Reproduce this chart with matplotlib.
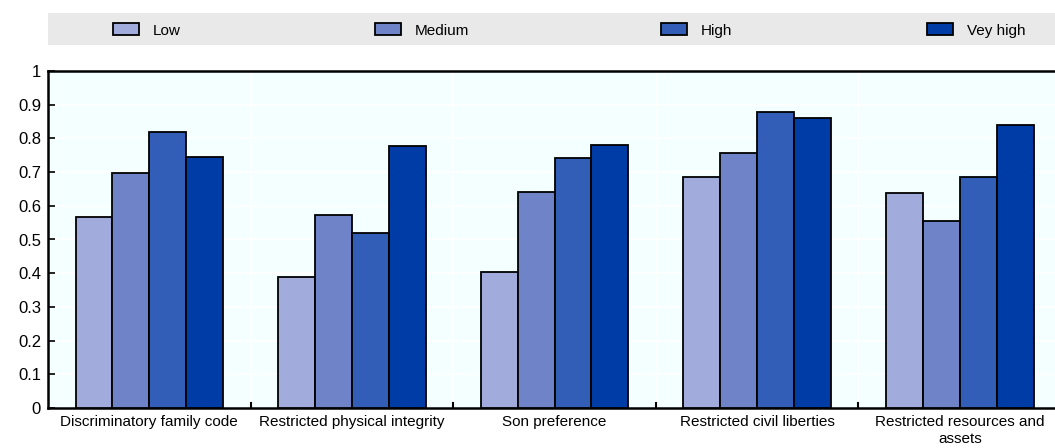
"""Grouped bars: SIGI sub-index by level of discrimination"""

import numpy as np
import matplotlib
matplotlib.use("Agg")
import matplotlib.pyplot as plt
from matplotlib.patches import Rectangle

categories = [
    "Discriminatory family code",
    "Restricted physical integrity",
    "Son preference",
    "Restricted civil liberties",
    "Restricted resources and\nassets",
]
series_names = ["Low", "Medium", "High", "Vey high"]
low = [0.567, 0.390, 0.404, 0.686, 0.639]
medium = [0.698, 0.573, 0.640, 0.757, 0.554]
high = [0.820, 0.519, 0.741, 0.877, 0.684]
very_high = [0.746, 0.777, 0.780, 0.862, 0.839]
yticks = [0, 0.1, 0.2, 0.3, 0.4, 0.5, 0.6, 0.7, 0.8, 0.9, 1]
ytick_labels = ["0", "0.1", "0.2", "0.3", "0.4", "0.5", "0.6", "0.7", "0.8", "0.9", "1"]

colors = ["#A2ACDC", "#6F83C8", "#335EB8", "#003CA5"]
W, H = 1055, 448

plt.rcParams["font.family"] = ["Liberation Sans Narrow", "Liberation Sans", "DejaVu Sans"]

fig = plt.figure(figsize=(W / 100, H / 100), dpi=100)
ax = fig.add_axes([48 / W, 40 / H, 1 - 48 / W, 337 / H])
ax.set_facecolor("#F4FFFF")

x = np.arange(len(categories))
width = 0.182
all_series = [low, medium, high, very_high]
for i, (vals, name) in enumerate(zip(all_series, series_names)):
    ax.bar(x + (i - 1.5) * width, vals, width, color=colors[i],
           edgecolor="black", linewidth=1.3, label=name, zorder=3)

ax.set_xlim(-0.5, 4.47)
ax.set_ylim(0, 1)
ax.set_yticks(yticks)
ax.set_yticklabels(ytick_labels, fontsize=12)
ax.set_xticks(x)
ax.set_xticklabels(categories, fontsize=11, linespacing=1.3)
ax.tick_params(axis="x", length=0, pad=5)
ax.tick_params(axis="y", direction="in", length=5, width=1.2, pad=5)

# category boundaries: white grid plus small inward ticks
for b in np.arange(0.5, 4.5, 1.0):
    ax.axvline(b, color="white", linewidth=1.2, zorder=1)
    ax.plot([b, b], [0, 0.015], color="black", linewidth=1.5, zorder=4)
for yv in yticks[1:-1]:
    ax.axhline(yv, color="white", linewidth=1.2, zorder=1)

for side in ["left", "bottom", "top"]:
    ax.spines[side].set_linewidth(1.8)
    ax.spines[side].set_color("black")
ax.spines["right"].set_visible(False)

# grey legend band above the plot
fig.patches.append(Rectangle((48 / W, 1 - 45 / H), 1 - 48 / W, 32 / H,
                             transform=fig.transFigure, facecolor="#E9E9E9",
                             edgecolor="none", zorder=0))
handles, labels = ax.get_legend_handles_labels()
legend_x = [113, 375, 661, 927]
for h, lab, lx in zip(handles, labels, legend_x):
    fig.legend([h], [lab], loc="center left", bbox_to_anchor=(lx / W, 1 - 30.5 / H),
               frameon=False, fontsize=11, handlelength=1.7, handleheight=0.85,
               handletextpad=0.9, borderpad=0, borderaxespad=0)

fig.savefig("out.png", dpi=100)
